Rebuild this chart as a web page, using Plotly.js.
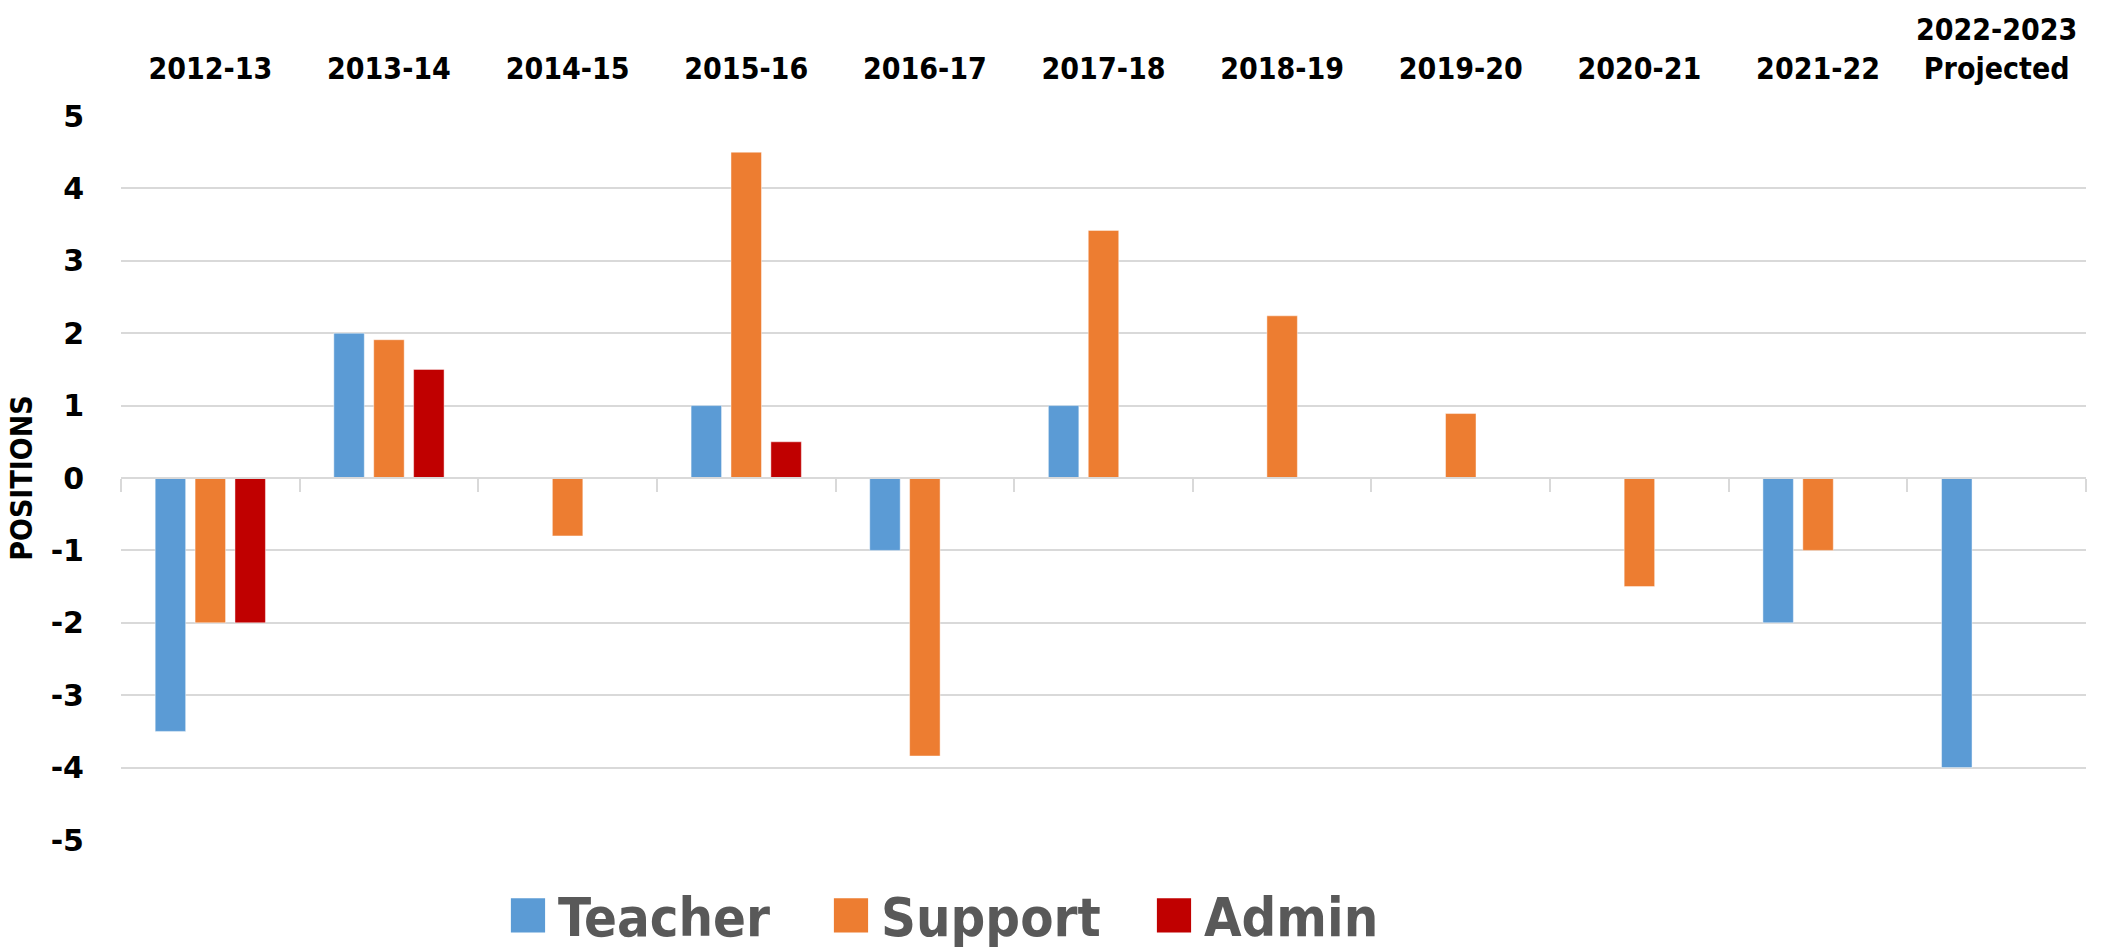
<!DOCTYPE html>
<html>
<head>
<meta charset="utf-8">
<script src="https://cdn.plot.ly/plotly-3.0.1.min.js"></script>
<style>
html,body{margin:0;padding:0;background:#fff;}
#chart{width:2103px;height:950px;}
#chart .legend .legendpoints path{transform: translate(30px,0px) scale(2.85) !important; stroke-width:0 !important;}
</style>
</head>
<body>
<div id="chart"></div>
<script>
const categories = ["2012-13","2013-14","2014-15","2015-16","2016-17","2017-18","2018-19","2019-20","2020-21","2021-22","2022-2023<br>Projected"];
const teacher = [-3.5, 2, null, 1, -1, 1, null, null, null, -2, -4];
const support = [-2, 1.91, -0.8, 4.5, -3.84, 3.42, 2.24, 0.89, -1.5, -1, null];
const admin   = [-2, 1.5, null, 0.5, null, null, null, null, null, null, null];
const seriesNames = ["Teacher","Support","Admin"];
const seriesColors = ["#5B9BD5","#ED7D31","#C00000"];
const yTicks = [-5,-4,-3,-2,-1,0,1,2,3,4,5];
const yTickLabels = ["-5","-4","-3","-2","-1","0","1","2","3","4","5"];

const condensed = "'Liberation Sans Narrow', 'DejaVu Sans Condensed', 'Liberation Sans', sans-serif";

const traces = [teacher, support, admin].map((vals, i) => ({
  type: 'bar',
  name: seriesNames[i],
  x: categories,
  y: vals,
  marker: {color: seriesColors[i], line: {color: 'rgba(255,255,255,0.45)', width: 1}},
  hoverinfo: 'x+y+name'
}));

const boundaryTicks = [];
for (let i = 0; i <= categories.length; i++) boundaryTicks.push(i - 0.5);

const layout = {
  width: 2103, height: 950,
  margin: {l: 121, r: 17, t: 116, b: 110},
  paper_bgcolor: '#fff', plot_bgcolor: '#fff',
  barmode: 'group',
  bargap: 0.33,
  bargroupgap: 0.236,
  showlegend: true,
  legend: {
    orientation: 'h',
    xref: 'container', yref: 'container',
    x: 0.2368, xanchor: 'left',
    y: 0.036, yanchor: 'middle',
    font: {family: condensed, size: 54, color: '#595959', weight: 'bold'},
    itemwidth: 50,
    entrywidth: 258, entrywidthmode: 'pixels',
    bgcolor: 'rgba(0,0,0,0)', borderwidth: 0,
    traceorder: 'normal'
  },
  xaxis: {
    type: 'category',
    side: 'top',
    showgrid: false, zeroline: false, showline: false,
    ticks: '',
    tickfont: {family: condensed, size: 30, color: '#000', weight: 'bold'},
    ticklabelstandoff: 30,
    fixedrange: true
  },
  xaxis2: {
    overlaying: 'x',
    anchor: 'free',
    position: 0.5,
    side: 'bottom',
    type: 'linear',
    range: [-0.5, categories.length - 0.5],
    tickmode: 'array',
    tickvals: boundaryTicks,
    showticklabels: false,
    ticks: 'outside', ticklen: 13, tickwidth: 2, tickcolor: '#D9D9D9',
    showline: true, linecolor: '#D9D9D9', linewidth: 2,
    showgrid: false, zeroline: false,
    fixedrange: true
  },
  yaxis: {
    range: [-5, 5],
    tickmode: 'array', tickvals: yTicks, ticktext: yTickLabels,
    showgrid: true, gridcolor: '#D9D9D9', gridwidth: 2,
    zeroline: false, showline: false, ticks: '',
    tickfont: {family: "'DejaVu Sans', sans-serif", size: 30, color: '#000', weight: 'bold'},
    ticklabelstandoff: 36,
    title: {text: 'POSITIONS', font: {family: condensed, size: 30, color: '#000', weight: 'bold'}, standoff: 9},
    fixedrange: true
  }
};

const dummy = {type: 'scatter', x: [null], y: [null], xaxis: 'x2', yaxis: 'y', showlegend: false, hoverinfo: 'skip', mode: 'markers'};

Plotly.newPlot('chart', traces.concat([dummy]), layout, {displayModeBar: false, staticPlot: true});
</script>
</body>
</html>
